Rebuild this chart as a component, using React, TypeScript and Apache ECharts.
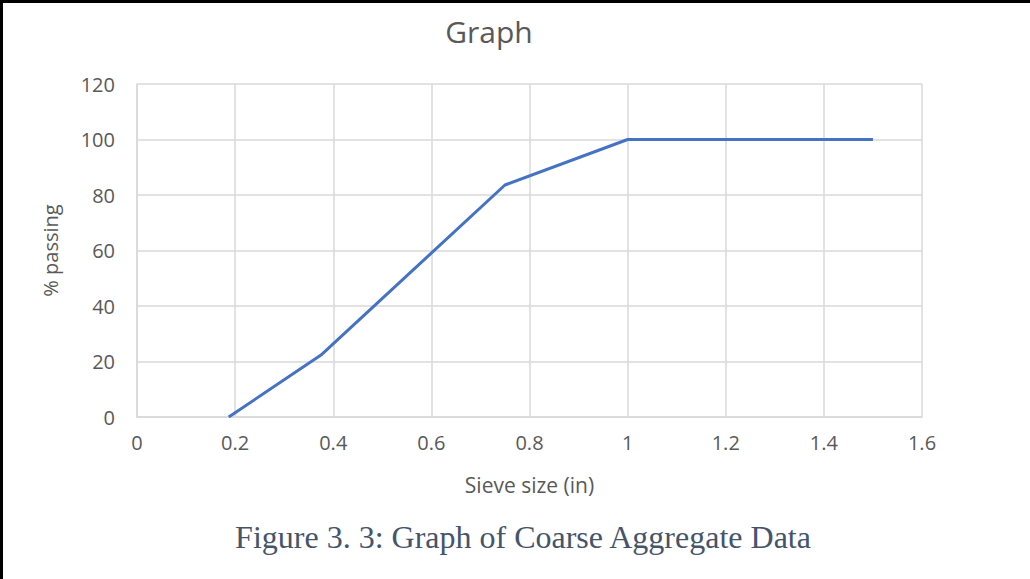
import React, { useEffect, useRef } from "react";
import * as echarts from "echarts";

const sieveSizes: number[] = [0.187, 0.375, 0.75, 1, 1.5];
const percentPassing: number[] = [0, 22.3, 83.6, 100, 100];
const chartTitle = "Graph";
const xAxisName = "Sieve size (in)";
const yAxisName = "% passing";
const caption = "Figure 3. 3: Graph of Coarse Aggregate Data";

export default function App() {
  const ref = useRef<HTMLDivElement>(null);
  useEffect(() => {
    document.body.style.margin = "0";
    const chart = echarts.init(ref.current!, null, { renderer: "svg" });
    const font = "'Open Sans', 'Noto Sans', sans-serif";
    chart.setOption({
      animation: false,
      backgroundColor: "#ffffff",
      title: {
        text: chartTitle,
        left: 484,
        top: 11,
        textAlign: "center",
        textStyle: { color: "#595959", fontSize: 30, fontWeight: "normal", fontFamily: font },
      },
      grid: { left: 137, right: 108, top: 84, bottom: 162, containLabel: false },
      xAxis: {
        type: "value",
        min: 0,
        max: 1.6,
        interval: 0.2,
        name: xAxisName,
        nameLocation: "middle",
        nameGap: 57,
        nameTextStyle: { color: "#595959", fontSize: 21, fontFamily: font },
        axisLine: { show: true, lineStyle: { color: "#d9d9d9", width: 1.5 } },
        axisTick: { show: false },
        splitLine: { show: true, lineStyle: { color: "#d9d9d9", width: 1.5 } },
        axisLabel: {
          color: "#595959",
          fontSize: 20,
          fontFamily: font,
          margin: 15,
          formatter: (v: number) => String(Math.round(v * 10) / 10),
        },
      },
      yAxis: {
        type: "value",
        min: 0,
        max: 120,
        interval: 20,
        name: yAxisName,
        nameLocation: "middle",
        nameGap: 77,
        nameRotate: 90,
        nameTextStyle: { color: "#595959", fontSize: 20, fontFamily: font },
        axisLine: { show: true, lineStyle: { color: "#d9d9d9", width: 1.5 } },
        axisTick: { show: false },
        splitLine: { show: true, lineStyle: { color: "#d9d9d9", width: 1.5 } },
        axisLabel: { color: "#595959", fontSize: 20, fontFamily: font, margin: 22 },
      },
      series: [
        {
          type: "line",
          data: sieveSizes.map((x, i) => [x, percentPassing[i]]),
          showSymbol: false,
          lineStyle: { color: "#4472c4", width: 3 },
          itemStyle: { color: "#4472c4" },
        },
      ],
      graphic: [
        {
          type: "text",
          x: 523,
          y: 537,
          style: {
            text: caption,
            fill: "#44546a",
            fontSize: 32,
            fontFamily: "'Liberation Serif', 'DejaVu Serif', serif",
            textAlign: "center",
            textVerticalAlign: "middle",
          },
        },
        { type: "rect", shape: { x: 0, y: 0, width: 1030, height: 3 }, style: { fill: "#000000" } },
        { type: "rect", shape: { x: 0, y: 0, width: 3, height: 579 }, style: { fill: "#000000" } },
      ],
    });
    return () => chart.dispose();
  }, []);
  return <div ref={ref} style={{ position: "fixed", left: 0, top: 0, width: 1030, height: 579 }} />;
}
